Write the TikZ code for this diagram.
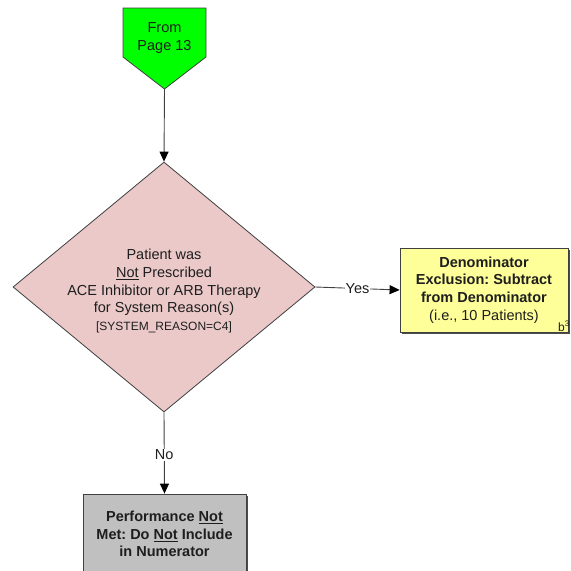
\documentclass[tikz,border=0pt]{standalone}
\usepackage{fontspec}
\setmainfont{Liberation Sans}
\usetikzlibrary{arrows.meta,shapes.geometric,shadows}
\frenchspacing
\definecolor{txt}{HTML}{1E1E1E}
\definecolor{edge}{HTML}{404040}
\definecolor{greenfill}{HTML}{00FF00}
\definecolor{pinkfill}{HTML}{EBC9C9}
\definecolor{yellowfill}{HTML}{FFFF99}
\definecolor{grayfill}{HTML}{C0C0C0}
\tikzset{
  every node/.style={text=txt},
  mainfont/.style={font=\fontsize{14.5}{17.6}\selectfont},
  boxshadow/.style={drop shadow={shadow xshift=1.6pt,shadow yshift=-1.6pt,fill=black!70,opacity=1}},
  procbox/.style={draw=edge,line width=0.8pt,rectangle,inner sep=0pt,align=center,mainfont,boxshadow},
  decision/.style={draw=edge,line width=0.8pt,diamond,inner sep=0pt,fill=pinkfill},
  conn/.style={draw=edge,line width=0.9pt,-{Triangle[length=10pt,width=9pt,fill=black,color=black]}},
  edgelabel/.style={fill=white,inner sep=1pt,mainfont}
}
\begin{document}
\begin{tikzpicture}[x=1pt,y=-1pt]
\useasboundingbox (0,0) rectangle (571,571);
% off-page connector
\draw[draw=edge,line width=0.8pt,fill=greenfill] (123,8) -- (206,8) -- (206,57) -- (164.5,89) -- (123,57) -- cycle;
\coordinate (fromtip) at (164.5,89);
\node[align=center,mainfont] (from) at (164.5,38) {From\\Page 13};
% decision
\node[decision,minimum width=302pt,minimum height=250pt] (dec) at (164,287) {};
\node[align=center,mainfont] (dectext) at (164,291) {Patient was\\\underline{Not} Prescribed\\ACE Inhibitor or ARB Therapy\\for System Reason(s)\\{\fontsize{12}{17.6}\selectfont [SYSTEM\_REASON=C4]}};
% exclusion box
\node[procbox,fill=yellowfill,minimum width=168pt,minimum height=84pt] (excl) at (484,290) {\textbf{Denominator}\\\textbf{Exclusion: Subtract}\\\textbf{from Denominator}\\(i.e., 10 Patients)};
\node[anchor=base west,inner sep=0pt,font=\fontsize{12}{14}\selectfont] (bnote) at (558,331) {b\textsuperscript{3}};
% not met box
\node[procbox,fill=grayfill,minimum width=163pt,minimum height=80pt] (notmet) at (164.5,534) {\textbf{Performance \underline{Not}}\\\textbf{Met: Do \underline{Not} Include}\\\textbf{in Numerator}};
% connectors
\draw[conn] (fromtip) -- (dec.north);
\draw[conn] (dec.east) -- node[edgelabel] {Yes} (excl.west);
\draw[conn] (dec.south) -- node[edgelabel,pos=0.52] {No} (notmet.north);
\end{tikzpicture}
\end{document}
